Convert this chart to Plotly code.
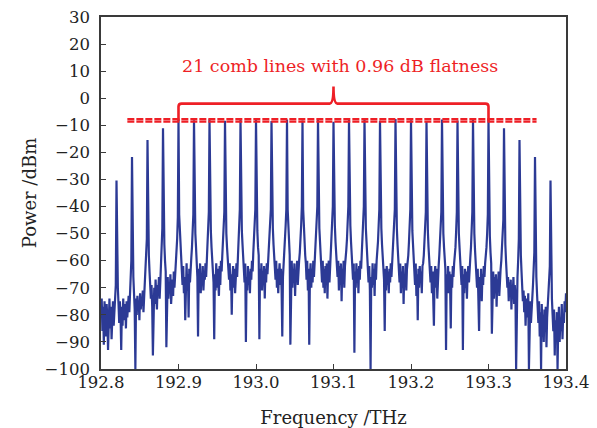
import plotly.graph_objects as go

# Comb line frequencies (THz) and their peak powers (dBm)
line_freqs = [192.82, 192.84, 192.86, 192.88,
              192.90, 192.92, 192.94, 192.96, 192.98, 193.00, 193.02,
              193.04, 193.06, 193.08, 193.10, 193.12, 193.14, 193.16,
              193.18, 193.20, 193.22, 193.24, 193.26, 193.28, 193.30,
              193.32, 193.34, 193.36, 193.38]
peak_dbm = [-30.4, -21.7, -15.4, -11.1,
            -7.9, -8.1, -7.8, -8.3, -7.7, -8.0, -8.4, -7.9, -8.2, -7.8, -8.66,
            -8.0, -7.9, -8.3, -7.7, -8.1, -8.5, -7.9, -8.2, -8.0, -7.8,
            -11.1, -15.4, -21.7, -30.4]

# Index range of the 21 flat comb lines
flat_first, flat_last = 4, 24

# Spectrum samples before the first line, between lines, and after the last line (dBm)
lead_floor = [-79, -74, -86, -77, -91, -75, -83, -88, -76, -81, -93, -78, -74, -85,
              -77, -89, -80, -75, -84, -78, -73, -69]
gap_floor = [
    [-62, -70, -76, -83, -75, -80, -93, -77, -84, -74, -82, -78, -76, -85, -75, -81, -77, -73, -79, -72, -67, -60],
    [-56, -66, -72, -78, -100, -74, -80, -73, -77, -75, -82, -72, -78, -74, -76, -71, -79, -73, -70, -66, -60, -52],
    [-50, -58, -64, -68, -74, -69, -77, -95, -72, -70, -76, -67, -73, -78, -69, -71, -66, -74, -68, -63, -57, -48],
    [-46, -54, -60, -64, -92, -70, -66, -74, -68, -72, -65, -76, -69, -67, -73, -64, -70, -66, -62, -58, -52, -44],
    [-43, -50, -56, -60, -64, -69, -62, -72, -66, -82, -67, -61, -71, -65, -81, -63, -68, -61, -59, -55, -50, -43],
    [-43, -50, -55, -60, -66, -88, -63, -70, -61, -72, -66, -69, -62, -71, -65, -67, -61, -66, -59, -55, -49, -42],
    [-42, -49, -55, -60, -62, -68, -89, -65, -71, -61, -70, -63, -68, -73, -62, -69, -60, -64, -58, -54, -49, -42],
    [-42, -50, -55, -59, -63, -67, -61, -71, -65, -80, -66, -62, -70, -63, -72, -65, -61, -66, -58, -54, -48, -41],
    [-42, -49, -54, -59, -62, -68, -61, -90, -66, -71, -62, -69, -64, -72, -63, -67, -60, -64, -57, -53, -48, -41],
    [-42, -49, -55, -58, -89, -63, -69, -61, -71, -64, -67, -62, -74, -63, -68, -61, -65, -60, -57, -53, -48, -41],
    [-41, -48, -54, -58, -62, -67, -60, -70, -63, -72, -65, -61, -69, -63, -71, -88, -66, -62, -58, -53, -47, -41],
    [-41, -48, -54, -58, -91, -66, -60, -70, -63, -68, -61, -73, -64, -67, -60, -69, -62, -60, -57, -53, -47, -40],
    [-41, -48, -53, -58, -61, -67, -60, -71, -63, -91, -66, -61, -70, -63, -68, -60, -66, -61, -57, -52, -47, -40],
    [-41, -48, -53, -57, -61, -68, -60, -70, -63, -72, -62, -67, -61, -74, -64, -60, -68, -61, -57, -52, -47, -40],
    [-40, -47, -53, -57, -61, -66, -60, -71, -62, -69, -61, -75, -63, -67, -60, -70, -62, -60, -56, -52, -46, -40],
    [-40, -47, -53, -57, -60, -67, -61, -94, -64, -70, -61, -68, -63, -72, -62, -67, -60, -63, -57, -52, -47, -40],
    [-41, -48, -53, -58, -61, -68, -62, -71, -100, -66, -70, -61, -69, -63, -73, -61, -67, -60, -57, -53, -47, -41],
    [-41, -48, -54, -58, -62, -67, -86, -63, -71, -62, -69, -64, -72, -63, -68, -61, -66, -60, -58, -53, -48, -41],
    [-41, -48, -54, -58, -62, -68, -61, -72, -64, -70, -62, -76, -65, -69, -61, -71, -63, -61, -58, -53, -48, -41],
    [-42, -49, -54, -59, -62, -69, -61, -73, -65, -82, -63, -70, -62, -68, -64, -72, -62, -61, -58, -54, -48, -42],
    [-42, -49, -55, -59, -63, -68, -62, -72, -64, -71, -84, -65, -62, -70, -63, -74, -64, -62, -58, -54, -49, -42],
    [-42, -50, -55, -60, -63, -93, -65, -71, -62, -72, -64, -69, -85, -65, -70, -62, -66, -61, -59, -55, -49, -42],
    [-42, -50, -55, -60, -63, -69, -62, -93, -65, -72, -63, -70, -64, -74, -65, -62, -68, -61, -59, -55, -49, -42],
    [-43, -50, -56, -60, -64, -70, -63, -73, -86, -66, -71, -63, -75, -65, -69, -62, -66, -61, -59, -55, -50, -43],
    [-44, -51, -57, -61, -87, -69, -64, -74, -66, -72, -65, -77, -67, -70, -64, -73, -66, -63, -60, -56, -51, -45],
    [-47, -54, -60, -64, -70, -66, -75, -68, -73, -67, -78, -70, -72, -66, -76, -69, -73, -100, -71, -66, -60, -52],
    [-51, -58, -64, -69, -75, -71, -79, -73, -84, -76, -74, -81, -72, -100, -78, -75, -83, -76, -73, -69, -63, -57],
    [-58, -66, -72, -77, -83, -75, -88, -79, -100, -76, -85, -80, -90, -78, -84, -77, -92, -81, -76, -72, -67, -62],
]
trail_floor = [-66, -74, -80, -86, -78, -95, -82, -88, -79, -100, -84, -77, -90, -81,
               -86, -76, -89, -80, -83, -75, -79, -72]

x_min, x_max = 192.8, 193.4
y_min, y_max = -100, 30
x_ticks = [192.8, 192.9, 193.0, 193.1, 193.2, 193.3, 193.4]

BLUE = "#2C3A95"
RED = "#EE1F26"
FONT = "DejaVu Serif"
INK = "#222222"

# Assemble the spectrum trace sample by sample
freq, power = [], []
n = len(lead_floor)
for j, v in enumerate(lead_floor):
    freq.append(x_min + j * (line_freqs[0] - x_min) / n)
    power.append(v)
for k, (f, p) in enumerate(zip(line_freqs, peak_dbm)):
    freq.append(f)
    power.append(p)
    if k < len(gap_floor):
        seg = gap_floor[k]
        step = (line_freqs[k + 1] - f) / (len(seg) + 1)
        for j, v in enumerate(seg):
            freq.append(f + (j + 1) * step)
            power.append(v)
n = len(trail_floor)
for j, v in enumerate(trail_floor):
    freq.append(line_freqs[-1] + (j + 1) * (x_max - line_freqs[-1]) / n)
    power.append(v)

fig = go.Figure()
fig.add_trace(go.Scatter(x=freq, y=power, mode="lines",
                         line=dict(color=BLUE, width=2.2), showlegend=False,
                         hoverinfo="skip"))

# Max / min reference levels of the flat lines
flat_peaks = peak_dbm[flat_first:flat_last + 1]
ref_start = line_freqs[0] + 0.014
ref_end = line_freqs[-1] - 0.018
for level in (max(flat_peaks), min(flat_peaks)):
    fig.add_trace(go.Scatter(x=[ref_start, ref_end], y=[level, level], mode="lines",
                             line=dict(color=RED, width=2.2, dash="7px,2px"),
                             showlegend=False, hoverinfo="skip"))

# Curly brace spanning the flat lines
x0 = line_freqs[flat_first]
x1 = line_freqs[flat_last]
xc = (x0 + x1) / 2
y_foot, y_bar, y_tip = -8.3, -2.0, 4.3
rx, ry, rt = 0.004, 1.1, 0.005
brace = (f"M {x0},{y_foot} L {x0},{y_bar - ry} Q {x0},{y_bar} {x0 + rx},{y_bar} "
         f"L {xc - rt},{y_bar} Q {xc},{y_bar} {xc},{y_tip} "
         f"Q {xc},{y_bar} {xc + rt},{y_bar} L {x1 - rx},{y_bar} "
         f"Q {x1},{y_bar} {x1},{y_bar - ry} L {x1},{y_foot}")
fig.add_shape(type="path", path=brace, xref="x", yref="y",
              line=dict(color=RED, width=2.6))

fig.add_annotation(x=xc, y=11.0, xref="x", yref="y", xshift=6, yshift=2,
                   text=f"{flat_last - flat_first + 1} comb lines with "
                        f"{max(flat_peaks) - min(flat_peaks):.2f} dB flatness",
                   showarrow=False, font=dict(family=FONT, size=17.5, color=RED))

axis_common = dict(showline=True, linecolor="#3A3A3A", linewidth=1.5, mirror=True,
                   ticks="inside", ticklen=5, tickwidth=1.2, tickcolor="#3A3A3A",
                   showgrid=False, zeroline=False, automargin=False,
                   tickfont=dict(family=FONT, size=16.5, color=INK),
                   title_font=dict(family=FONT, size=18, color=INK))

fig.update_xaxes(range=[x_min, x_max], tickvals=x_ticks, tickformat=".1f",
                 ticklabelstandoff=-3,
                 title_text="Frequency /THz", title_standoff=21, **axis_common)
fig.update_yaxes(range=[y_min, y_max], dtick=10, tick0=0,
                 ticklabelstandoff=6,
                 title_text="Power /dBm", title_standoff=3, **axis_common)

fig.update_layout(width=597, height=428,
                  margin=dict(l=101, r=31, t=17, b=59),
                  paper_bgcolor="white", plot_bgcolor="white")

fig.write_html("out.html")
